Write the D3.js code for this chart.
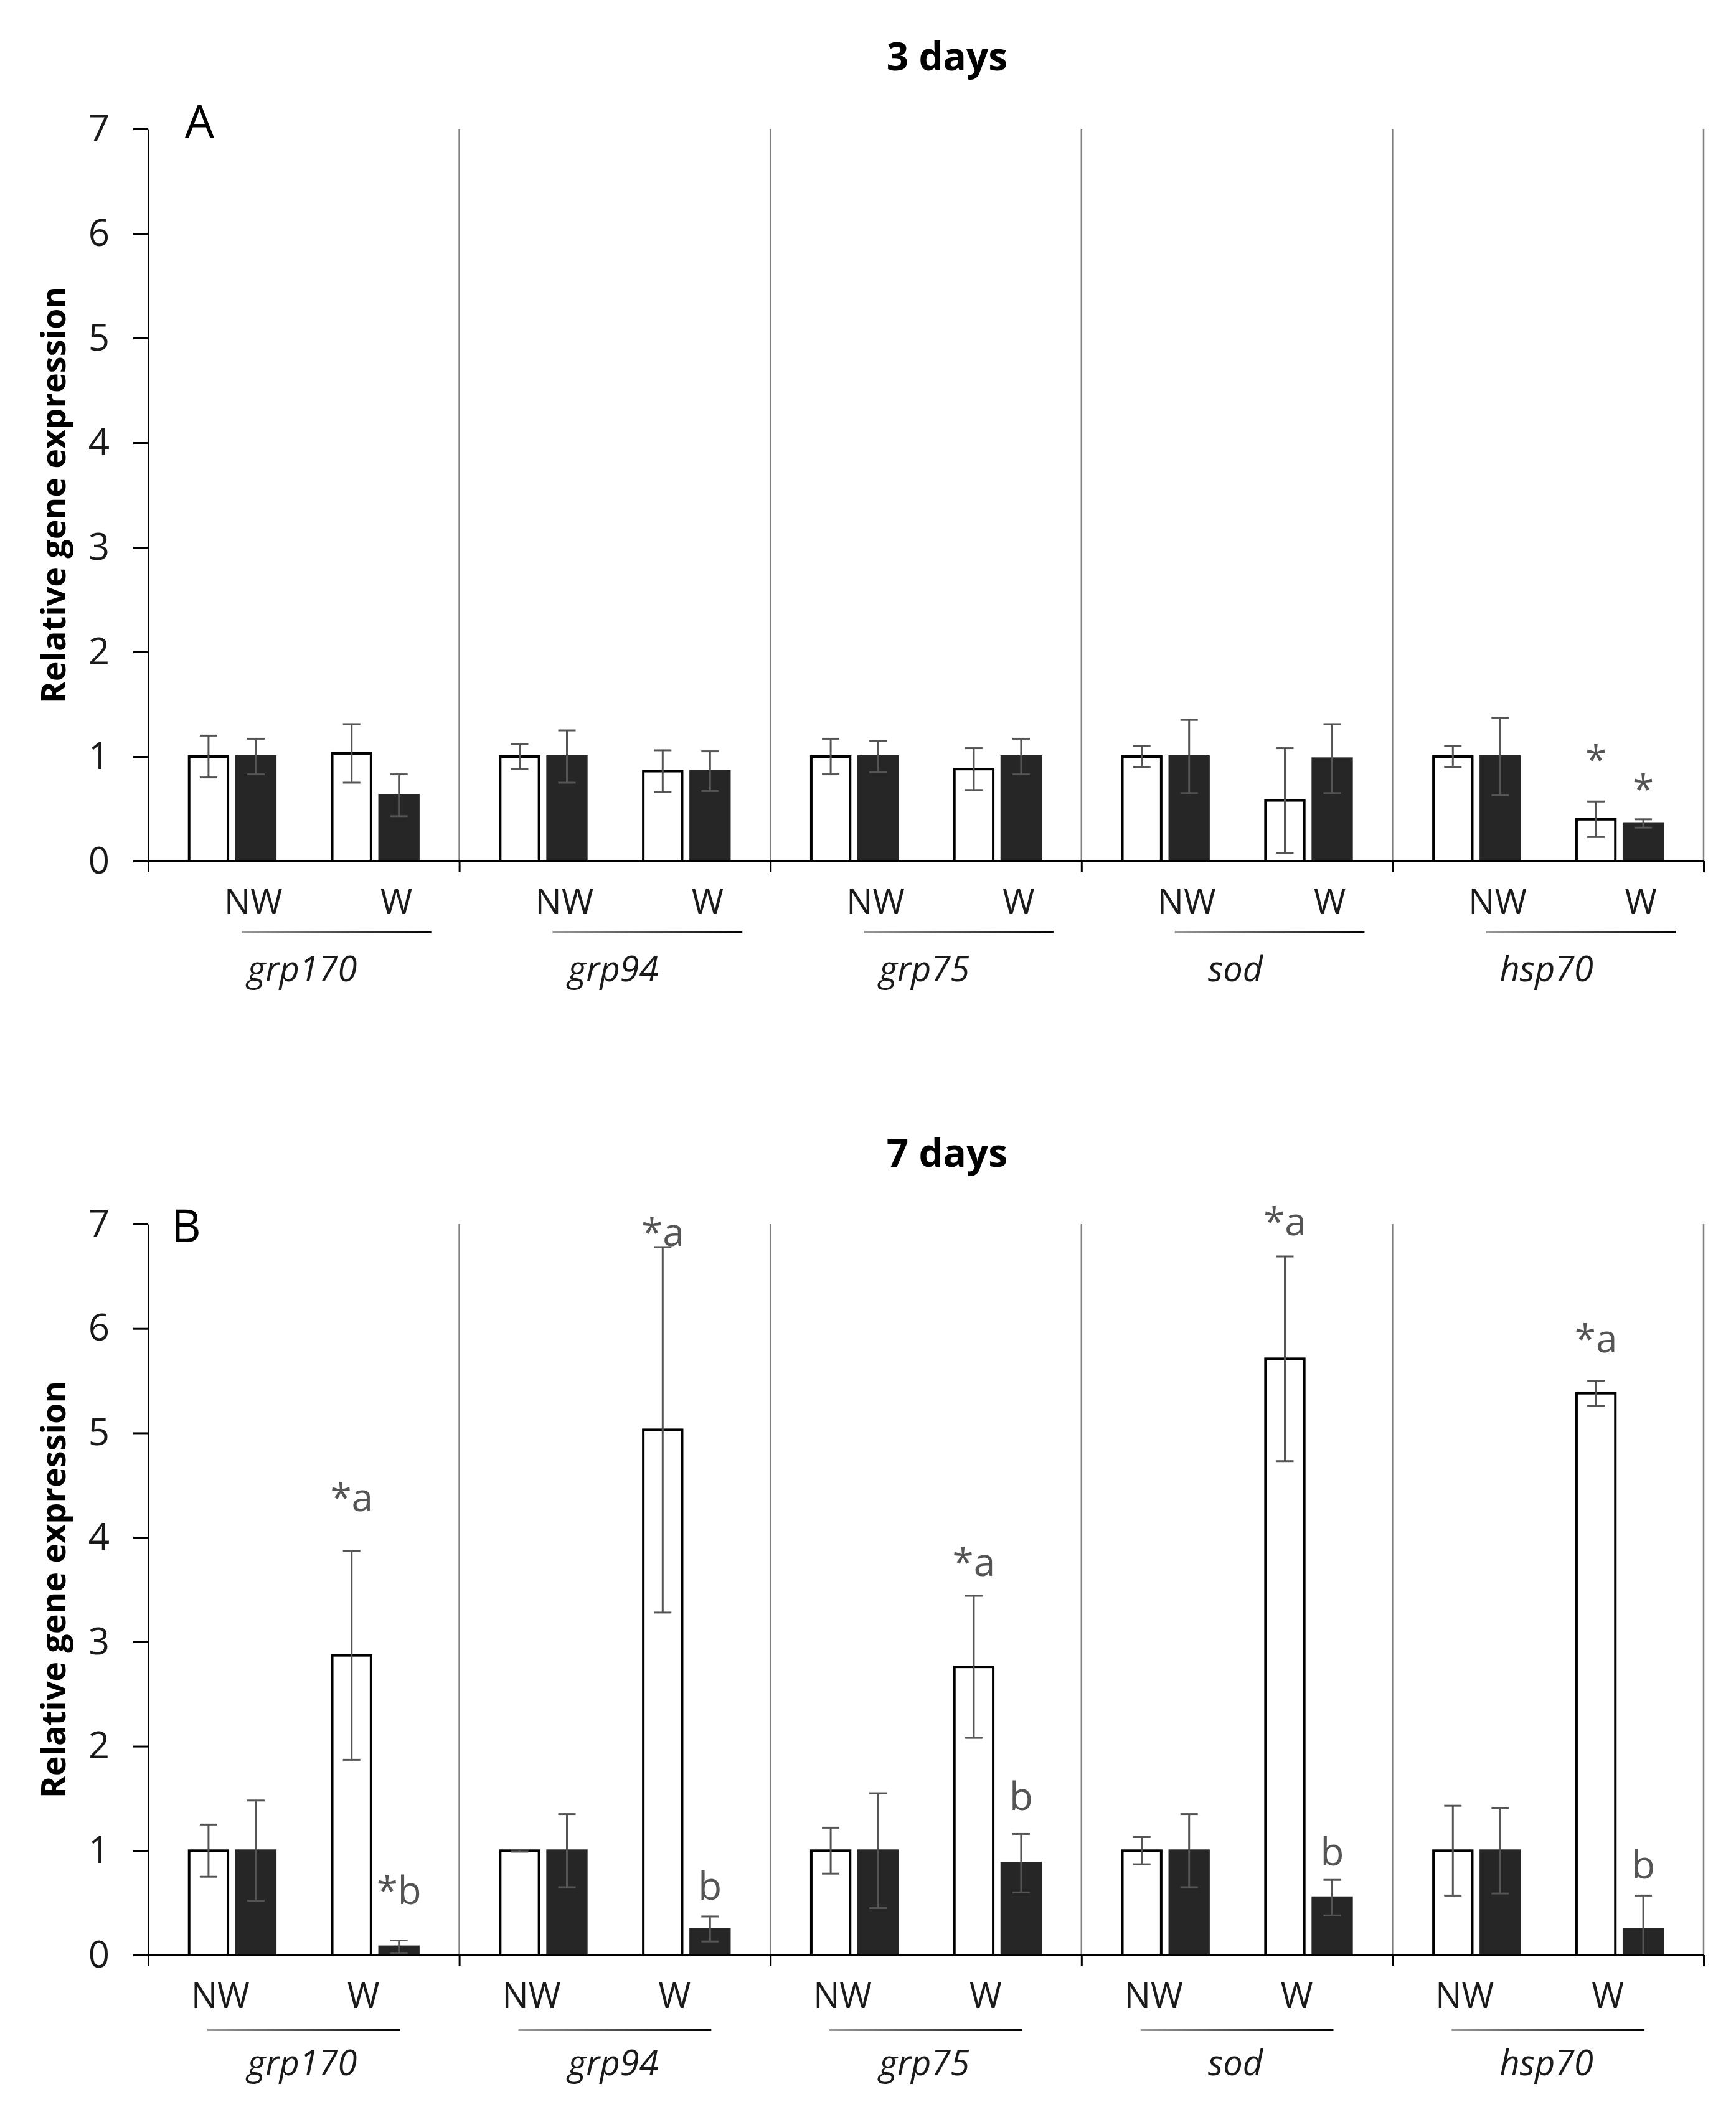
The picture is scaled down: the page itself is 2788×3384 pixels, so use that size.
<!DOCTYPE html>
<html>
<head>
<meta charset="utf-8">
<script src="https://cdn.jsdelivr.net/npm/d3@7"></script>
<style>
  body { margin: 0; background: #fff; }
  text { font-family: "Open Sans", "DejaVu Sans", sans-serif; }
</style>
</head>
<body>
<div id="root"></div>
<script>
// genes and conditions on the x axis
var genes = ["grp170", "grp94", "grp75", "sod", "hsp70"];
var conditions = ["NW", "W"];
var seriesKeys = ["open", "filled"];
var yTicks = [0, 1, 2, 3, 4, 5, 6, 7];

// 3 days: values in gene x condition order (grp170 NW, grp170 W, grp94 NW, ...)
var day3Open = [1.00, 1.03, 1.00, 0.86, 1.00, 0.88, 1.00, 0.58, 1.00, 0.40];
var day3OpenErr = [0.20, 0.28, 0.12, 0.20, 0.17, 0.20, 0.10, 0.50, 0.10, 0.17];
var day3Filled = [1.00, 0.63, 1.00, 0.86, 1.00, 1.00, 1.00, 0.98, 1.00, 0.36];
var day3FilledErr = [0.17, 0.20, 0.25, 0.19, 0.15, 0.17, 0.35, 0.33, 0.37, 0.04];
var day3OpenMarks = ["", "", "", "", "", "", "", "", "", "*"];
var day3FilledMarks = ["", "", "", "", "", "", "", "", "", "*"];
var day3OpenMarkLevel = [0, 0, 0, 0, 0, 0, 0, 0, 0, 0.97];
var day3FilledMarkLevel = [0, 0, 0, 0, 0, 0, 0, 0, 0, 0.69];

// 7 days
var day7Open = [1.00, 2.87, 1.00, 5.03, 1.00, 2.76, 1.00, 5.71, 1.00, 5.38];
var day7OpenErr = [0.25, 1.00, 0.01, 1.75, 0.22, 0.68, 0.13, 0.98, 0.43, 0.12];
var day7Filled = [1.00, 0.08, 1.00, 0.25, 1.00, 0.88, 1.00, 0.55, 1.00, 0.25];
var day7FilledErr = [0.48, 0.06, 0.35, 0.12, 0.55, 0.28, 0.35, 0.17, 0.41, 0.32];
var day7OpenMarks = ["", "*a", "", "*a", "", "*a", "", "*a", "", "*a"];
var day7FilledMarks = ["", "*b", "", "b", "", "b", "", "b", "", "b"];
var day7OpenMarkLevel = [0, 4.38, 0, 6.92, 0, 3.76, 0, 7.02, 0, 5.90];
var day7FilledMarkLevel = [0, 0.62, 0, 0.66, 0, 1.52, 0, 0.99, 0, 0.86];

var width = 2788, height = 3384;
var xLeft = 238, xRight = 2736;

var panels = [
  { title: "3 days", letter: "A", top: 207, bottom: 1383, titleY: 113, letterX: 297, letterY: 221,
    labelShift: 34, lineFrom: 0.30, lineTo: 0.91, lineDy: 114,
    open: day3Open, openErr: day3OpenErr, filled: day3Filled, filledErr: day3FilledErr,
    openMarks: day3OpenMarks, filledMarks: day3FilledMarks,
    openLevel: day3OpenMarkLevel, filledLevel: day3FilledMarkLevel },
  { title: "7 days", letter: "B", top: 1966, bottom: 3140, titleY: 1874, letterX: 275, letterY: 1995,
    labelShift: -19, lineFrom: 0.19, lineTo: 0.81, lineDy: 120,
    open: day7Open, openErr: day7OpenErr, filled: day7Filled, filledErr: day7FilledErr,
    openMarks: day7OpenMarks, filledMarks: day7FilledMarks,
    openLevel: day7OpenMarkLevel, filledLevel: day7FilledMarkLevel }
];

var svg = d3.select("#root")
  .append("svg")
  .attr("width", width)
  .attr("height", height);

// gray -> black underline
var grad = svg.append("defs").append("linearGradient")
  .attr("id", "uline").attr("x1", "0%").attr("x2", "100%");
grad.append("stop").attr("offset", "0%").attr("stop-color", "#9a9a9a");
grad.append("stop").attr("offset", "100%").attr("stop-color", "#000");

var xGene = d3.scaleBand().domain(genes).range([xLeft, xRight]).padding(0);
var xCond = d3.scaleBand().domain(conditions).range([0, xGene.bandwidth()])
  .paddingInner(0.398).paddingOuter(0.286);
var xSer = d3.scaleBand().domain(seriesKeys).range([0, xCond.bandwidth()])
  .paddingInner(0.18).paddingOuter(0);
var xEdge = d3.scaleLinear().domain([0, genes.length]).range([xLeft, xRight]);

panels.forEach(function (p) {
  var g = svg.append("g");
  var y = d3.scaleLinear().domain([0, 7]).range([p.bottom, p.top]);

  // rows: one per bar
  var rows = [];
  genes.forEach(function (gene, gi) {
    conditions.forEach(function (c, ci) {
      var i = gi * 2 + ci;
      rows.push({ gene: gene, cond: c, key: "open", v: p.open[i], e: p.openErr[i], mark: p.openMarks[i], level: p.openLevel[i] });
      rows.push({ gene: gene, cond: c, key: "filled", v: p.filled[i], e: p.filledErr[i], mark: p.filledMarks[i], level: p.filledLevel[i] });
    });
  });
  function bx(d) { return xGene(d.gene) + xCond(d.cond) + xSer(d.key); }

  // separators between genes
  g.selectAll(".sep")
    .data(d3.range(1, genes.length + 1))
    .join("line")
    .attr("x1", function (d) { return xEdge(d); })
    .attr("x2", function (d) { return xEdge(d); })
    .attr("y1", y(7))
    .attr("y2", y(0))
    .attr("stroke", "#808080")
    .attr("stroke-width", 2.5);

  // bars
  g.selectAll(".bar")
    .data(rows)
    .join("rect")
    .attr("x", bx)
    .attr("y", function (d) { return y(d.v); })
    .attr("width", xSer.bandwidth())
    .attr("height", function (d) { return y(0) - y(d.v); })
    .attr("fill", function (d) { return d.key === "open" ? "#fff" : "#262626"; })
    .attr("stroke", function (d) { return d.key === "open" ? "#000" : "#262626"; })
    .attr("stroke-width", 4);

  // error bars
  var eb = g.selectAll(".err").data(rows).join("g")
    .attr("stroke", "#555")
    .attr("stroke-width", 3);
  eb.append("line")
    .attr("x1", function (d) { return bx(d) + xSer.bandwidth() / 2; })
    .attr("x2", function (d) { return bx(d) + xSer.bandwidth() / 2; })
    .attr("y1", function (d) { return y(Math.max(0, d.v - d.e)); })
    .attr("y2", function (d) { return y(d.v + d.e); });
  eb.append("line")
    .attr("x1", function (d) { return bx(d) + xSer.bandwidth() / 2 - 14; })
    .attr("x2", function (d) { return bx(d) + xSer.bandwidth() / 2 + 14; })
    .attr("y1", function (d) { return y(d.v + d.e); })
    .attr("y2", function (d) { return y(d.v + d.e); });
  eb.filter(function (d) { return d.v - d.e > 0; })
    .append("line")
    .attr("x1", function (d) { return bx(d) + xSer.bandwidth() / 2 - 14; })
    .attr("x2", function (d) { return bx(d) + xSer.bandwidth() / 2 + 14; })
    .attr("y1", function (d) { return y(d.v - d.e); })
    .attr("y2", function (d) { return y(d.v - d.e); });

  // significance marks
  g.selectAll(".mark")
    .data(rows.filter(function (d) { return d.mark !== ""; }))
    .join("text")
    .attr("x", function (d) { return bx(d) + xSer.bandwidth() / 2; })
    .attr("y", function (d) { return y(d.level); })
    .attr("dy", "0.35em")
    .attr("text-anchor", "middle")
    .attr("font-size", 62)
    .attr("fill", "#555")
    .text(function (d) { return d.mark; });

  // y axis
  var ya = g.append("g")
    .attr("transform", "translate(" + xLeft + ",0)")
    .call(d3.axisLeft(y).tickValues(yTicks).tickFormat(d3.format("d"))
      .tickSize(24).tickSizeOuter(0).tickPadding(38));
  ya.select(".domain").attr("stroke", "#000").attr("stroke-width", 3);
  ya.selectAll(".tick line").attr("stroke", "#000").attr("stroke-width", 3);
  ya.selectAll(".tick text")
    .attr("font-family", "'Open Sans', sans-serif")
    .attr("font-size", 60)
    .attr("fill", "#1a1a1a");

  // x axis with ticks at gene edges
  var xa = g.append("g")
    .attr("transform", "translate(0," + y(0) + ")")
    .call(d3.axisBottom(xEdge).tickValues(d3.range(0, genes.length + 1)).tickSize(18).tickSizeOuter(0).tickFormat(""));
  xa.select(".domain").attr("stroke", "#000").attr("stroke-width", 3);
  xa.selectAll(".tick line").attr("stroke", "#000").attr("stroke-width", 3);

  // NW / W labels
  genes.forEach(function (gene) {
    g.selectAll(null)
      .data(conditions)
      .join("text")
      .attr("x", function (c) { return xGene(gene) + xCond(c) + xCond.bandwidth() / 2 + p.labelShift; })
      .attr("y", y(0) + 65)
      .attr("dy", "0.35em")
      .attr("text-anchor", "middle")
      .attr("font-size", 56)
      .attr("fill", "#1a1a1a")
      .text(function (c) { return c; });
  });

  // underline and gene names
  g.selectAll(".uline")
    .data(genes)
    .join("rect")
    .attr("x", function (d) { return xGene(d) + p.lineFrom * xGene.bandwidth(); })
    .attr("y", y(0) + p.lineDy - 2)
    .attr("width", (p.lineTo - p.lineFrom) * xGene.bandwidth())
    .attr("height", 4)
    .attr("fill", "url(#uline)");

  g.selectAll(".gene")
    .data(genes)
    .join("text")
    .attr("x", function (d) { return xGene(d) + 0.495 * xGene.bandwidth(); })
    .attr("y", y(0) + 173)
    .attr("dy", "0.35em")
    .attr("text-anchor", "middle")
    .attr("font-size", 56)
    .attr("font-style", "italic")
    .attr("fill", "#1a1a1a")
    .text(function (d) { return d; });

  // title, panel letter, y label
  g.append("text")
    .attr("x", 1521)
    .attr("y", p.titleY)
    .attr("text-anchor", "middle")
    .attr("font-size", 62)
    .attr("font-weight", "bold")
    .attr("fill", "#000")
    .text(p.title);

  g.append("text")
    .attr("x", p.letterX)
    .attr("y", p.letterY)
    .attr("font-size", 74)
    .attr("fill", "#000")
    .text(p.letter);

  g.append("text")
    .attr("transform", "translate(105," + (p.top + p.bottom) / 2 + ") rotate(-90)")
    .attr("text-anchor", "middle")
    .attr("font-size", 54)
    .attr("font-weight", "bold")
    .attr("fill", "#000")
    .text("Relative gene expression");
});
</script>
</body>
</html>
